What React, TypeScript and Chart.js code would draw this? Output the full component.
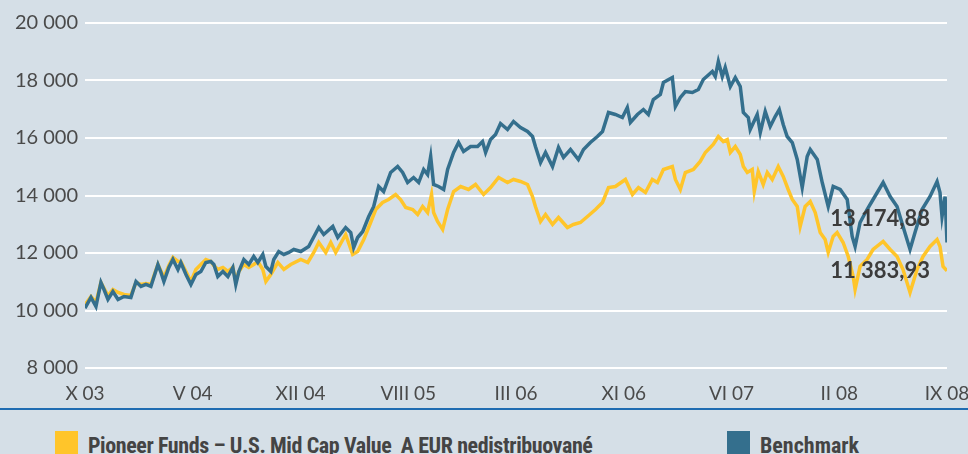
import React, { useEffect, useRef } from 'react';
import { Chart, registerables } from 'chart.js';

Chart.register(...registerables);

// x tick labels (evenly spaced over the period X 03 .. IX 08)
const xTickLabels = ['X 03', 'V 04', 'XII 04', 'VIII 05', 'III 06', 'XI 06', 'VI 07', 'II 08', 'IX 08'];
const totalMonths = 59; // months from X 03 to IX 08

// Benchmark: month offset from X 03 and value
const benchMonths = [
  0, 0.41, 0.75, 1.09, 1.3, 1.57, 1.91, 2.26, 2.67, 3.14, 3.49, 3.83, 4.17, 4.51, 4.99, 5.2, 5.4, 5.74, 6.02, 6.36,
  6.56, 6.91, 7.25, 7.59, 7.93, 8.27, 8.61, 8.82, 9.09, 9.44, 9.78, 10.12, 10.32, 10.53, 10.87, 11.21, 11.55, 11.83, 12.17, 12.38,
  12.72, 12.92, 13.26, 13.61, 13.95, 14.29, 14.77, 15.31, 16.0, 16.34, 16.96, 17.3, 17.84, 18.19, 18.39, 18.66, 19.01, 19.42, 19.76, 20.1,
  20.44, 20.92, 21.4, 21.74, 22.08, 22.49, 22.84, 23.18, 23.45, 23.66, 23.86, 24.2, 24.55, 24.82, 25.23, 25.57, 25.91, 26.39, 26.87, 27.21,
  27.42, 27.76, 28.1, 28.44, 28.92, 29.33, 29.81, 30.29, 30.63, 30.83, 31.18, 31.52, 32.0, 32.41, 32.75, 33.23, 33.77, 34.12, 34.59, 35.07,
  35.42, 35.83, 36.3, 36.78, 37.12, 37.33, 37.81, 38.22, 38.56, 38.9, 39.38, 39.59, 40.2, 40.41, 40.75, 41.09, 41.57, 41.98, 42.32, 42.94,
  43.14, 43.35, 43.62, 43.82, 44.17, 44.51, 44.85, 45.06, 45.4, 45.53, 46.01, 46.22, 46.56, 46.9, 47.24, 47.52, 47.79, 48.06, 48.41, 48.75,
  49.09, 49.43, 49.64, 50.12, 50.46, 50.87, 51.21, 51.69, 52.17, 52.51, 52.71, 53.05, 53.53, 53.94, 54.63, 55.11, 55.58, 55.99, 56.47, 56.81,
  57.29, 57.84, 58.32, 58.52, 58.66, 58.87, 59.0,
];
const benchValues = [
  10080, 10453, 10140, 10974, 10731, 10383, 10661, 10383, 10487, 10453, 11009, 10835, 10905, 10835, 11600, 11322, 11009, 11496, 11774, 11426,
  11670, 11252, 10905, 11252, 11357, 11670, 11705, 11600, 11183, 11357, 11183, 11496, 10905, 11357, 11774, 11600, 11879, 11670, 11948, 11531,
  11357, 11774, 12052, 11948, 12018, 12122, 12052, 12226, 12887, 12644, 12922, 12539, 12887, 12713, 12192, 12539, 12748, 13270, 13618, 14313,
  14139, 14800, 15009, 14800, 14452, 14626, 14452, 14904, 14730, 15357, 14383, 14313, 14209, 14904, 15496, 15843, 15530, 15704, 15704, 15878,
  15496, 15948, 16122, 16504, 16296, 16574, 16365, 16226, 16052, 15704, 15148, 15496, 15009, 15670, 15322, 15600, 15252, 15600, 15843, 16052,
  16226, 16887, 16817, 16713, 17061, 16539, 16817, 16991, 16817, 17339, 17513, 17930, 18104, 17096, 17409, 17617, 17582, 17687, 18035, 18313,
  18139, 18661, 18139, 18452, 17791, 18104, 17791, 16887, 16713, 16296, 16817, 16191, 16922, 16400, 16748, 16991, 16469, 16052, 15843, 15252,
  14278, 15357, 15600, 15252, 14452, 13618, 14313, 14209, 13861, 12574, 12226, 13061, 13513, 13861, 14452, 13965, 13618, 12922, 12122, 12713,
  13513, 13965, 14487, 14104, 13270, 13965, 12365,
];

// Fund: month offset from X 03 and value
const fundMonths = [
  0, 0.41, 0.75, 1.09, 1.57, 1.91, 2.26, 2.67, 3.14, 3.49, 3.83, 4.17, 4.51, 4.99, 5.4, 5.74, 6.02, 6.36, 6.56, 6.91,
  7.25, 7.59, 7.93, 8.27, 8.61, 8.82, 9.09, 9.44, 9.78, 10.12, 10.32, 10.53, 10.87, 11.21, 11.55, 11.83, 12.17, 12.38, 12.72, 13.2,
  13.61, 14.08, 14.77, 15.25, 15.66, 16.0, 16.48, 16.82, 17.16, 17.84, 18.32, 18.66, 19.08, 19.55, 19.9, 20.37, 20.78, 21.26, 21.6, 21.95,
  22.43, 22.77, 23.11, 23.45, 23.72, 23.86, 24.13, 24.48, 24.82, 25.23, 25.71, 26.25, 26.73, 27.28, 27.76, 28.31, 28.92, 29.33, 29.81, 30.29,
  30.63, 30.83, 31.18, 31.52, 32.0, 32.41, 33.02, 33.43, 33.91, 34.39, 34.94, 35.42, 35.83, 36.3, 36.99, 37.47, 37.88, 38.36, 38.83, 39.18,
  39.59, 40.2, 40.41, 40.75, 41.09, 41.64, 42.11, 42.46, 43.0, 43.35, 43.69, 43.96, 44.17, 44.51, 44.85, 45.06, 45.33, 45.67, 45.81, 46.08,
  46.42, 46.7, 47.04, 47.45, 47.79, 48.13, 48.41, 48.75, 48.95, 49.29, 49.64, 49.98, 50.32, 50.66, 50.87, 51.21, 51.48, 51.89, 52.24, 52.58,
  52.71, 53.05, 53.53, 53.94, 54.63, 55.11, 55.58, 55.99, 56.47, 56.95, 57.36, 57.84, 58.32, 58.52, 58.73, 59.0,
];
const fundValues = [
  10200, 10487, 10279, 10974, 10522, 10731, 10626, 10557, 10522, 10974, 10905, 10939, 10905, 11600, 11148, 11566, 11844, 11705, 11705, 11357,
  11009, 11426, 11600, 11774, 11705, 11566, 11426, 11496, 11357, 11496, 11009, 11357, 11600, 11496, 11600, 11705, 11426, 11009, 11252, 11670,
  11426, 11600, 11774, 11670, 12018, 12365, 12018, 12365, 12018, 12644, 11948, 12052, 12470, 13061, 13513, 13757, 13861, 14035, 13861, 13583,
  13513, 13339, 13618, 13409, 14035, 13409, 13096, 12818, 13513, 14139, 14313, 14209, 14383, 14035, 14278, 14626, 14452, 14557, 14487, 14383,
  13965, 13618, 13096, 13339, 12991, 13235, 12887, 12991, 13061, 13270, 13513, 13757, 14278, 14313, 14557, 14035, 14278, 14104, 14557, 14452,
  14904, 15009, 14557, 14209, 14800, 14904, 15183, 15496, 15774, 16052, 15878, 15948, 15496, 15704, 15426, 15009, 14800, 14904, 14139, 14835,
  14383, 14800, 14557, 15009, 14661, 14209, 13861, 13618, 12922, 13618, 13791, 13409, 12713, 12470, 12018, 12574, 12713, 12365, 11879, 11183,
  10731, 11531, 11774, 12122, 12400, 12122, 11879, 11426, 10626, 11426, 11879, 12226, 12470, 12226, 11531, 11384,
];

const benchLast = 13174.88;
const fundLast = 11383.93;
const fundName = 'Pioneer Funds – U.S. Mid Cap Value  A EUR nedistribuované';
const benchName = 'Benchmark';

const BG = '#d5dfe7';
const YELLOW = '#ffc52a';
const BLUE = '#346f8d';

function fmtThousands(v: number): string {
  return String(Math.round(v)).replace(/\B(?=(\d{3})+(?!\d))/g, ' ');
}
function fmtDecimal(v: number): string {
  const [i, d] = v.toFixed(2).split('.');
  return i.replace(/\B(?=(\d{3})+(?!\d))/g, ' ') + ',' + d;
}

const endLabelsPlugin = {
  id: 'endLabels',
  afterDatasetsDraw(chart: any) {
    const { ctx, chartArea } = chart;
    const y = chart.scales.y;
    ctx.save();
    ctx.font = 'bold 22px Lato';
    ctx.fillStyle = '#3c3c3c';
    ctx.textAlign = 'right';
    ctx.textBaseline = 'middle';
    [benchLast, fundLast].forEach((v) => {
      ctx.fillText(fmtDecimal(v), chartArea.right - 17, y.getPixelForValue(v));
    });
    ctx.restore();
  },
};

export default function App() {
  const ref = useRef<HTMLCanvasElement | null>(null);

  useEffect(() => {
    if (!ref.current) return;
    const chart = new Chart(ref.current, {
      type: 'line',
      data: {
        datasets: [
          {
            label: benchName,
            data: benchMonths.map((m, i) => ({ x: m, y: benchValues[i] })),
            borderColor: BLUE,
            borderWidth: 3.5,
            pointRadius: 0,
            tension: 0,
            fill: false,
          },
          {
            label: fundName,
            data: fundMonths.map((m, i) => ({ x: m, y: fundValues[i] })),
            borderColor: YELLOW,
            borderWidth: 3.5,
            pointRadius: 0,
            tension: 0,
            fill: false,
          },
        ],
      },
      options: {
        responsive: false,
        animation: false,
        devicePixelRatio: 1,
        layout: { padding: { top: 23, right: 21, left: 0, bottom: 0 } },
        plugins: { legend: { display: false }, tooltip: { enabled: false } },
        scales: {
          x: {
            type: 'linear',
            min: 0,
            max: totalMonths,
            afterBuildTicks: (s: any) => {
              s.ticks = xTickLabels.map((_, i) => ({ value: (i * totalMonths) / (xTickLabels.length - 1) }));
            },
            afterFit: (s: any) => {
              s.height = 40;
              s.paddingLeft = 0;
              s.paddingRight = 0;
            },
            ticks: {
              autoSkip: false,
              maxRotation: 0,
              padding: 14,
              color: '#4a4a4a',
              font: { family: 'Lato', size: 19 },
              callback: (_v: any, i: number) => xTickLabels[i],
            },
            grid: { display: false, drawTicks: false },
            border: { display: false },
          },
          y: {
            min: 8000,
            max: 20000,
            afterFit: (s: any) => {
              s.width = 85;
            },
            ticks: {
              stepSize: 2000,
              padding: 7,
              color: '#4a4a4a',
              font: { family: 'Lato', size: 20 },
              callback: (v: any) => fmtThousands(Number(v)),
            },
            grid: { color: '#ffffff', lineWidth: 2, drawTicks: false },
            border: { display: false },
          },
        },
      },
      plugins: [endLabelsPlugin],
    });
    return () => chart.destroy();
  }, []);

  const legendText: React.CSSProperties = {
    position: 'absolute',
    top: 435,
    fontFamily: '"Liberation Sans Narrow", "Roboto Condensed", "DejaVu Sans Condensed", sans-serif',
    fontStretch: 'condensed',
    fontWeight: 700,
    fontSize: 22,
    lineHeight: '1',
    color: '#444444',
    whiteSpace: 'pre',
  };

  return (
    <div
      style={{
        position: 'absolute',
        left: 0,
        top: 0,
        width: 968,
        height: 454,
        background: BG,
        overflow: 'hidden',
      }}
    >
      <canvas ref={ref} width={968} height={408} style={{ position: 'absolute', left: 0, top: 0 }} />
      <div style={{ position: 'absolute', left: 0, top: 408, width: 968, height: 2, background: '#1f6cb2' }} />
      <div style={{ position: 'absolute', left: 55, top: 431, width: 23, height: 24, background: YELLOW }} />
      <div style={{ ...legendText, left: 88, letterSpacing: '-0.4px' }}>{fundName}</div>
      <div style={{ position: 'absolute', left: 727, top: 431, width: 23, height: 24, background: BLUE }} />
      <div style={{ ...legendText, left: 760 }}>{benchName}</div>
    </div>
  );
}
